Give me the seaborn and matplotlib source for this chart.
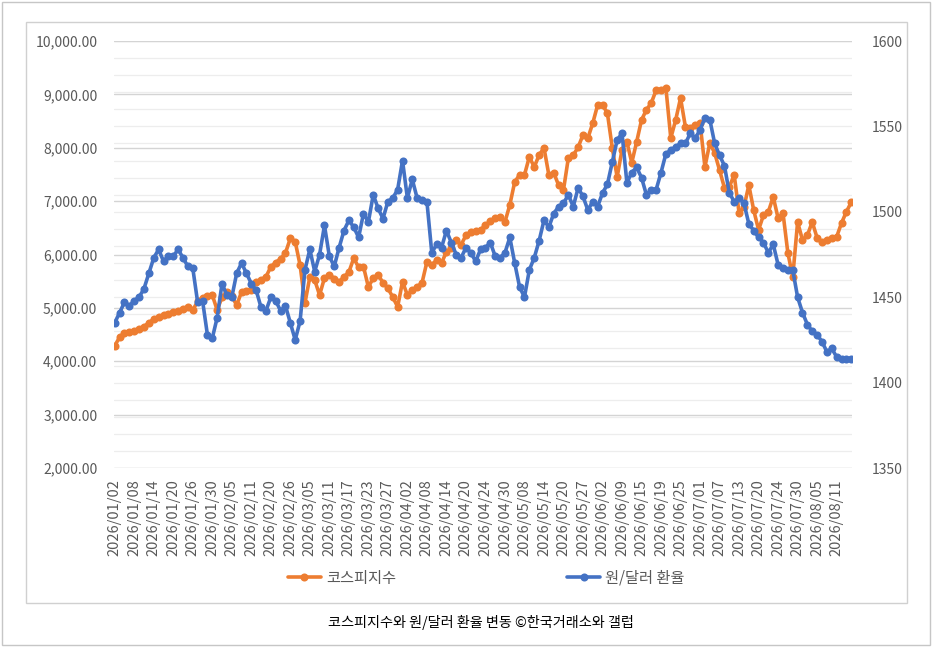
import matplotlib
matplotlib.use('Agg')
import matplotlib.pyplot as plt
from matplotlib.patches import Rectangle
from matplotlib.ticker import FuncFormatter
import seaborn as sns
import pandas as pd

# Trading days (KRX), 2026/01/02 - 2026/08/14
START = '2026-01-02'
END = '2026-08-14'
HOLIDAYS = ['2026-02-16', '2026-02-17', '2026-02-18', '2026-03-02', '2026-05-01',
            '2026-05-05', '2026-05-25', '2026-06-03', '2026-07-17']

# KOSPI index (left axis)
kospi = [
    4290, 4450, 4520, 4550, 4570, 4610, 4650, 4720, 4790, 4830,
    4860, 4890, 4920, 4950, 4980, 5010, 4960, 5120, 5190, 5230,
    5240, 4960, 5200, 5300, 5220, 5050, 5300, 5320, 5340, 5480,
    5530, 5580, 5770, 5850, 5920, 6030, 6300, 6240, 5800, 5090,
    5580, 5520, 5240, 5560, 5620, 5550, 5490, 5580, 5670, 5930,
    5760, 5770, 5390, 5560, 5620, 5470, 5370, 5200, 5020, 5490,
    5240, 5335, 5390, 5470, 5860, 5800, 5900, 5840, 6050, 6120,
    6270, 6180, 6360, 6420, 6440, 6460, 6550, 6620, 6680, 6700,
    6610, 6930, 7360, 7490, 7490, 7830, 7640, 7860, 8000, 7490,
    7530, 7300, 7210, 7810, 7860, 8010, 8240, 8180, 8460, 8800,
    8800, 8650, 8000, 7450, 7960, 8110, 7720, 8110, 8520, 8710,
    8840, 9080, 9080, 9120, 8180, 8520, 8930, 8390, 8370, 8430,
    8460, 7640, 8090, 7900, 7580, 7250, 7270, 7490, 6780, 6890,
    7300, 6830, 6460, 6740, 6800, 7080, 6680, 6780, 6030, 5580,
    6610, 6270, 6360, 6610, 6310, 6230, 6280, 6310, 6330, 6590,
    6800, 6980,
]

# KRW/USD exchange rate (right axis)
krw_usd = [
    1435, 1441, 1447, 1445, 1448, 1450, 1455, 1464, 1473, 1478,
    1471, 1474, 1474, 1478, 1473, 1468, 1467, 1447, 1448, 1428,
    1426, 1438, 1458, 1451, 1450, 1464, 1470, 1464, 1458, 1454,
    1444, 1442, 1450, 1448, 1442, 1445, 1435, 1425, 1436, 1466,
    1478, 1465, 1475, 1492, 1474, 1468, 1479, 1489, 1495, 1491,
    1485, 1499, 1494, 1510, 1502, 1496, 1506, 1508, 1513, 1530,
    1508, 1519, 1508, 1507, 1506, 1476, 1481, 1479, 1489, 1482,
    1475, 1473, 1479, 1476, 1471, 1478, 1479, 1482, 1474, 1473,
    1476, 1485, 1470, 1456, 1450, 1466, 1473, 1483, 1495, 1491,
    1499, 1503, 1505, 1510, 1503, 1514, 1509, 1501, 1506, 1503,
    1511, 1516, 1529, 1542, 1546, 1517, 1523, 1526, 1520, 1510,
    1513, 1513, 1523, 1534, 1536, 1538, 1540, 1540, 1546, 1543,
    1548, 1555, 1554, 1540, 1533, 1527, 1511, 1506, 1508, 1505,
    1493, 1489, 1485, 1482, 1476, 1481, 1469, 1467, 1466, 1466,
    1450, 1441, 1434, 1430, 1428, 1424, 1418, 1420, 1415, 1414,
    1414, 1414,
]

LABEL_KOSPI = '코스피지수'
LABEL_FX = '원/달러 환율'
CAPTION = '코스피지수와 원/달러 환율 변동 ©한국거래소와 갤럽'

ORANGE = '#ED7D31'
BLUE = '#4472C4'
GRAY_TXT = '#595959'

days = pd.bdate_range(START, END)
days = days[~days.isin(pd.to_datetime(HOLIDAYS))]
dates = days.strftime('%Y/%m/%d').tolist()
idx = list(range(len(dates)))

df = pd.DataFrame({'i': idx, 'date': dates, 'kospi': kospi, 'fx': krw_usd})

sns.set_style('white')
plt.rcParams['font.family'] = ['Noto Sans CJK KR', 'DejaVu Sans']

W, H = 933, 648
fig = plt.figure(figsize=(W / 100, H / 100), dpi=100)

def px(x0, y0, x1, y1):
    return [x0 / W, 1 - y1 / H, (x1 - x0) / W, (y1 - y0) / H]

# frames
for (x0, y0, x1, y1), c in [((2, 2, 930, 645), '#c6c6c6'), ((26, 22, 907, 603), '#d0d0d0')]:
    fig.patches.append(Rectangle((x0 / W, 1 - y1 / H), (x1 - x0) / W, (y1 - y0) / H,
                                 transform=fig.transFigure, fill=False,
                                 edgecolor=c, linewidth=1.0))

ax = fig.add_axes(px(114, 41, 852, 468))
ax2 = ax.twinx()
ax.patch.set_visible(False)
ax2.patch.set_visible(False)

L0, L1 = 2000, 10000
R0, R1 = 1350, 1600
ax.set_ylim(L0, L1)
ax2.set_ylim(R0, R1)
ax.set_xlim(-0.15, len(idx) - 0.85)

# light grid from right axis (every 10) and left major grid, drawn under the lines
for r in range(R0, R1 + 1, 10):
    ax.axhline(L0 + (r - R0) * (L1 - L0) / (R1 - R0), color='#ededed', lw=0.9, zorder=0)
for v in range(L0, L1 + 1, 1000):
    ax.axhline(v, color='#d4d4d4', lw=1.0, zorder=0.5)

sns.lineplot(data=df, x='i', y='kospi', ax=ax, color=ORANGE, linewidth=2.6,
             marker='o', markersize=5.8, markeredgewidth=0, label=LABEL_KOSPI, legend=False)
sns.lineplot(data=df, x='i', y='fx', ax=ax2, color=BLUE, linewidth=2.6,
             marker='o', markersize=5.8, markeredgewidth=0, label=LABEL_FX, legend=False)

ax.set_yticks(range(L0, L1 + 1, 1000))
ax.yaxis.set_major_formatter(FuncFormatter(lambda v, p: f'{v:,.2f}'))
ax2.set_yticks(range(R0, R1 + 1, 50))
ax.set_xticks(idx[::4])
ax.set_xticklabels(dates[::4], rotation=90)
ax.set_xlabel('')
ax.set_ylabel('')
ax2.set_ylabel('')

for a in (ax, ax2):
    for s in a.spines.values():
        s.set_visible(False)
    a.tick_params(length=0, colors=GRAY_TXT, labelsize=10)
ax.tick_params(axis='x', labelsize=10.5, pad=8)
ax.tick_params(axis='y', pad=12)
ax2.tick_params(axis='y', pad=14)

h1, l1 = ax.get_legend_handles_labels()
h2, l2 = ax2.get_legend_handles_labels()
fig.legend(h1 + h2, l1 + l2, loc='center', bbox_to_anchor=(486 / W, 1 - 578 / H),
           ncol=2, frameon=False, fontsize=11, labelcolor=GRAY_TXT,
           handlelength=2.2, handletextpad=0.3, columnspacing=11.2)

fig.text(481 / W, 1 - 622 / H, CAPTION, ha='center', va='center', fontsize=10.2, color='black')

fig.savefig('out.png', dpi=100, facecolor='white')
